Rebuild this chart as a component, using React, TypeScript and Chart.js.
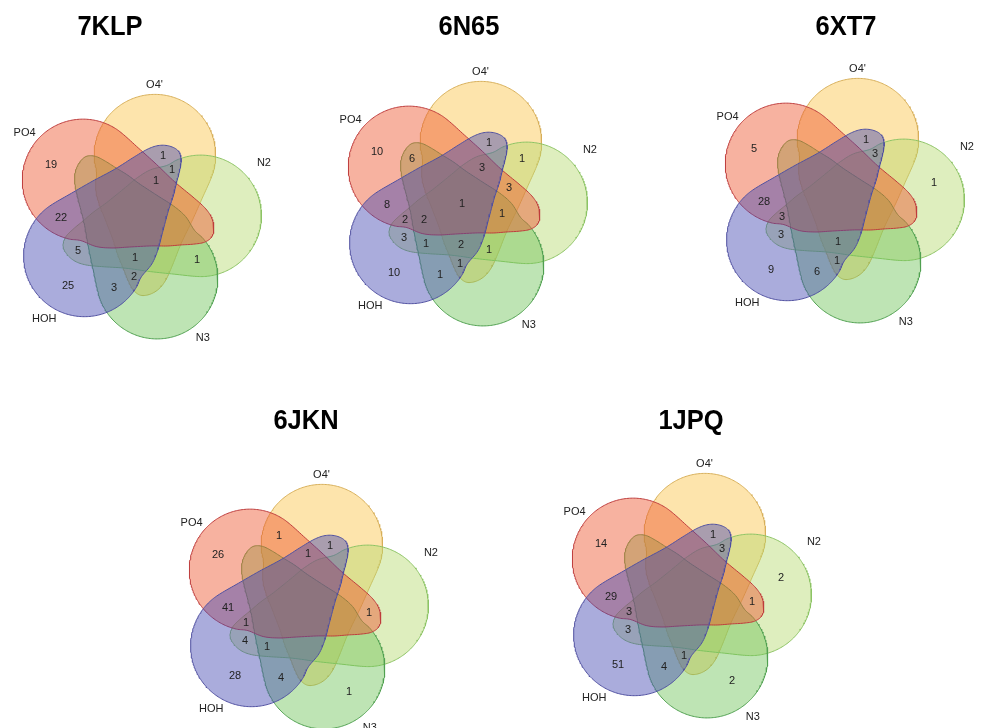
import React, { useEffect, useRef } from "react";
import { Chart, registerables } from "chart.js";
Chart.register(...registerables);

// ---------- data ----------
const SET_NAMES = ["O4'", "N2", "N3", "HOH", "PO4"];
const PANEL_TITLES = ["7KLP", "6N65", "6XT7", "6JKN", "1JPQ"];

const REGIONS_7KLP = ["PO4", "O4'&HOH", "O4'&N2&HOH", "O4'&N2&HOH&PO4", "HOH&PO4", "N2&HOH", "HOH", "N3&HOH", "O4'&N3&HOH", "O4'&N2&N3&HOH", "N2&N3"];
const COUNTS_7KLP = [19, 1, 1, 1, 22, 5, 25, 3, 2, 1, 1];

const REGIONS_6N65 = ["PO4", "N3&PO4", "O4'&HOH", "O4'&N2", "O4'&N2&HOH&PO4", "O4'&N2&PO4", "HOH&PO4", "O4'&N2&N3&HOH&PO4", "O4'&N2&N3&PO4", "N2&HOH&PO4", "N2&N3&HOH&PO4", "N2&HOH", "N2&N3&HOH", "O4'&N2&N3&HOH", "O4'&N2&N3", "HOH", "O4'&N3&HOH", "N3&HOH"];
const COUNTS_6N65 = [10, 6, 1, 1, 3, 3, 8, 1, 1, 2, 2, 3, 1, 2, 1, 10, 1, 1];

const REGIONS_6XT7 = ["PO4", "O4'&HOH", "O4'&N2&HOH", "N2", "HOH&PO4", "N2&HOH&PO4", "N2&HOH", "O4'&N2&N3&HOH", "HOH", "O4'&N3&HOH", "N3&HOH"];
const COUNTS_6XT7 = [5, 1, 3, 1, 28, 3, 3, 1, 9, 1, 6];

const REGIONS_6JKN = ["O4'&PO4", "O4'&HOH", "PO4", "O4'&HOH&PO4", "HOH&PO4", "N2&PO4", "N2&HOH&PO4", "N2&HOH", "N2&N3&HOH", "HOH", "N3&HOH", "N3"];
const COUNTS_6JKN = [1, 1, 26, 1, 41, 1, 1, 4, 1, 28, 4, 1];

const REGIONS_1JPQ = ["PO4", "O4'&HOH", "O4'&N2&HOH", "N2&PO4", "N2", "HOH&PO4", "N2&HOH&PO4", "N2&HOH", "HOH", "O4'&N3&HOH", "N3&HOH", "N3"];
const COUNTS_1JPQ = [14, 1, 3, 1, 2, 29, 3, 3, 51, 1, 4, 2];

const PANEL_REGIONS = [REGIONS_7KLP, REGIONS_6N65, REGIONS_6XT7, REGIONS_6JKN, REGIONS_1JPQ];
const PANEL_COUNTS = [COUNTS_7KLP, COUNTS_6N65, COUNTS_6XT7, COUNTS_6JKN, COUNTS_1JPQ];

// ---------- layout / style ----------
const PANEL_CENTERS: [number, number][] = [[136, 217], [462, 204], [839, 201], [303, 607], [686, 596]];
const TITLE_POS: [number, number][] = [[110, 27], [469, 27], [846, 27], [306, 421], [691, 421]];
const SET_ANGLE_BASE = 17;
const LABEL_POLAR: [number, number][] = [[8, 133], [67, 139], [151, 138], [222, 137], [307, 139.5]];
const FILL = ["rgba(250,195,70,0.45)", "rgba(182,217,111,0.45)", "rgba(111,195,88,0.45)", "rgba(66,71,177,0.45)", "rgba(237,84,44,0.45)"];
const LINE = ["rgb(215,175,90)", "rgb(140,195,100)", "rgb(80,160,80)", "rgb(80,80,160)", "rgb(190,60,60)"];
const SHAPE_SCALE = 0.98;
const CIRCLE_OFFSET = 66;
const CIRCLE_R = 62;
// outline of one petal lobe (set pointing up), from the circle's right side round the tip back to its left side
const LOBE_CTRL: [number, number][] = [[59, -38], [56, -14], [52, 12], [50, 36], [48, 52], [44, 63], [37, 71], [28, 75], [19, 72], [11, 64], [3, 54], [-6, 43], [-15, 30], [-29, 12], [-40, -2], [-48, -16]];

function rot(p: [number, number], deg: number): [number, number] {
  const a = (deg * Math.PI) / 180, c = Math.cos(a), s = Math.sin(a);
  return [p[0] * c - p[1] * s, p[0] * s + p[1] * c];
}

function buildTemplate(): [number, number][] {
  const ctrl: [number, number][] = [];
  for (let b = 237; b <= 457; b += 11) {
    const r = (b * Math.PI) / 180;
    ctrl.push([CIRCLE_R * Math.sin(r), -CIRCLE_OFFSET - CIRCLE_R * Math.cos(r)]);
  }
  ctrl.push(...LOBE_CTRL);
  const out: [number, number][] = [];
  const n = ctrl.length;
  const S = 8;
  for (let i = 0; i < n; i++) {
    const p0 = ctrl[(i - 1 + n) % n], p1 = ctrl[i], p2 = ctrl[(i + 1) % n], p3 = ctrl[(i + 2) % n];
    for (let k = 0; k < S; k++) {
      const t = k / S, t2 = t * t, t3 = t2 * t;
      const f = (a: number, b: number, c: number, d: number) =>
        0.5 * (2 * b + (-a + c) * t + (2 * a - 5 * b + 4 * c - d) * t2 + (-a + 3 * b - 3 * c + d) * t3);
      out.push([SHAPE_SCALE * f(p0[0], p1[0], p2[0], p3[0]), SHAPE_SCALE * f(p0[1], p1[1], p2[1], p3[1])]);
    }
  }
  return out;
}

function inside(poly: [number, number][], x: number, y: number) {
  let r = false;
  for (let i = 0, j = poly.length - 1; i < poly.length; j = i++) {
    const xi = poly[i][0], yi = poly[i][1], xj = poly[j][0], yj = poly[j][1];
    if ((yi > y) !== (yj > y) && x < ((xj - xi) * (y - yi)) / (yj - yi) + xi) r = !r;
  }
  return r;
}

// label anchor of each region: the point of the region farthest from any region border
function computeAnchors(polys: [number, number][][]) {
  const H = 150, N = 2 * H + 1;
  const lab = new Int32Array(N * N);
  for (let iy = 0; iy < N; iy++)
    for (let ix = 0; ix < N; ix++) {
      let m = 0;
      for (let s = 0; s < polys.length; s++) if (inside(polys[s], ix - H, iy - H)) m |= 1 << s;
      lab[iy * N + ix] = m;
    }
  const d = new Float64Array(N * N).fill(1e9);
  for (let iy = 0; iy < N; iy++)
    for (let ix = 0; ix < N; ix++) {
      const k = iy * N + ix, m = lab[k];
      if (ix === 0 || iy === 0 || ix === N - 1 || iy === N - 1 || lab[k - 1] !== m || lab[k + 1] !== m || lab[k - N] !== m || lab[k + N] !== m) d[k] = 0;
    }
  const R2 = Math.SQRT2;
  for (let iy = 1; iy < N; iy++)
    for (let ix = 1; ix < N - 1; ix++) {
      const k = iy * N + ix;
      d[k] = Math.min(d[k], d[k - 1] + 1, d[k - N] + 1, d[k - N - 1] + R2, d[k - N + 1] + R2);
    }
  for (let iy = N - 2; iy >= 0; iy--)
    for (let ix = N - 2; ix >= 1; ix--) {
      const k = iy * N + ix;
      d[k] = Math.min(d[k], d[k + 1] + 1, d[k + N] + 1, d[k + N + 1] + R2, d[k + N - 1] + R2);
    }
  const best = new Map<number, [number, number, number]>();
  for (let iy = 0; iy < N; iy++)
    for (let ix = 0; ix < N; ix++) {
      const k = iy * N + ix, m = lab[k];
      if (!m) continue;
      const b = best.get(m);
      if (!b || d[k] > b[2]) best.set(m, [ix - H, iy - H, d[k]]);
    }
  return best;
}

function regionMask(key: string) {
  return key.split("&").reduce((m, n) => m | (1 << SET_NAMES.indexOf(n)), 0);
}

export default function App() {
  const ref = useRef<HTMLCanvasElement>(null);
  useEffect(() => {
    const canvas = ref.current!;
    const template = buildTemplate();
    const setPolys = SET_NAMES.map((_, s) => template.map((p) => rot(p, SET_ANGLE_BASE + 72 * s)));
    const anchors = computeAnchors(setPolys);
    const drawOrder = [3, 4, 2, 1, 0];
    const datasets: any[] = [];
    PANEL_CENTERS.forEach(([cx, cy]) => {
      drawOrder.forEach((s) => {
        const pts = setPolys[s].map(([x, y]) => ({ x: cx + x, y: cy + y }));
        pts.push(pts[0]);
        datasets.push({
          label: SET_NAMES[s], data: pts, showLine: true, fill: "shape", backgroundColor: FILL[s], borderColor: LINE[s],
          borderWidth: 1, pointRadius: 0, pointHoverRadius: 0, tension: 0,
        });
      });
    });
    const textPlugin = {
      id: "vennText",
      afterDatasetsDraw(chart: any) {
        const ctx = chart.ctx as CanvasRenderingContext2D;
        const xs = chart.scales.x, ys = chart.scales.y;
        ctx.save();
        ctx.textAlign = "center";
        ctx.textBaseline = "middle";
        PANEL_TITLES.forEach((t, pi) => {
          ctx.fillStyle = "#000";
          ctx.font = 'bold 28px "Liberation Sans", Arial, sans-serif';
          ctx.save();
          ctx.translate(xs.getPixelForValue(TITLE_POS[pi][0]), ys.getPixelForValue(TITLE_POS[pi][1]));
          ctx.scale(0.91, 1);
          ctx.fillText(t, 0, 0);
          ctx.restore();
          const [cx, cy] = PANEL_CENTERS[pi];
          ctx.font = '11px "Liberation Sans", Arial, sans-serif';
          ctx.fillStyle = "#222";
          SET_NAMES.forEach((n, s) => {
            const [a, r] = LABEL_POLAR[s];
            const ar = (a * Math.PI) / 180;
            ctx.fillText(n, xs.getPixelForValue(cx + r * Math.sin(ar)), ys.getPixelForValue(cy - r * Math.cos(ar)));
          });
          PANEL_REGIONS[pi].forEach((key, i) => {
            const a = anchors.get(regionMask(key));
            if (!a) return;
            ctx.fillText(String(PANEL_COUNTS[pi][i]), xs.getPixelForValue(cx + a[0]), ys.getPixelForValue(cy + a[1]));
          });
        });
        ctx.restore();
      },
    };
    const chart = new Chart(canvas, {
      type: "scatter",
      data: { datasets },
      options: {
        animation: false, responsive: false, devicePixelRatio: 1,
        layout: { padding: 0 },
        scales: {
          x: { type: "linear", min: 0, max: 990, display: false },
          y: { type: "linear", min: 0, max: 728, reverse: true, display: false },
        },
        plugins: { legend: { display: false }, tooltip: { enabled: false } },
        events: [],
      },
      plugins: [textPlugin],
    });
    return () => chart.destroy();
  }, []);
  return (
    <div style={{ position: "fixed", left: 0, top: 0, width: 990, height: 728, background: "#fff" }}>
      <canvas ref={ref} width={990} height={728} />
    </div>
  );
}
